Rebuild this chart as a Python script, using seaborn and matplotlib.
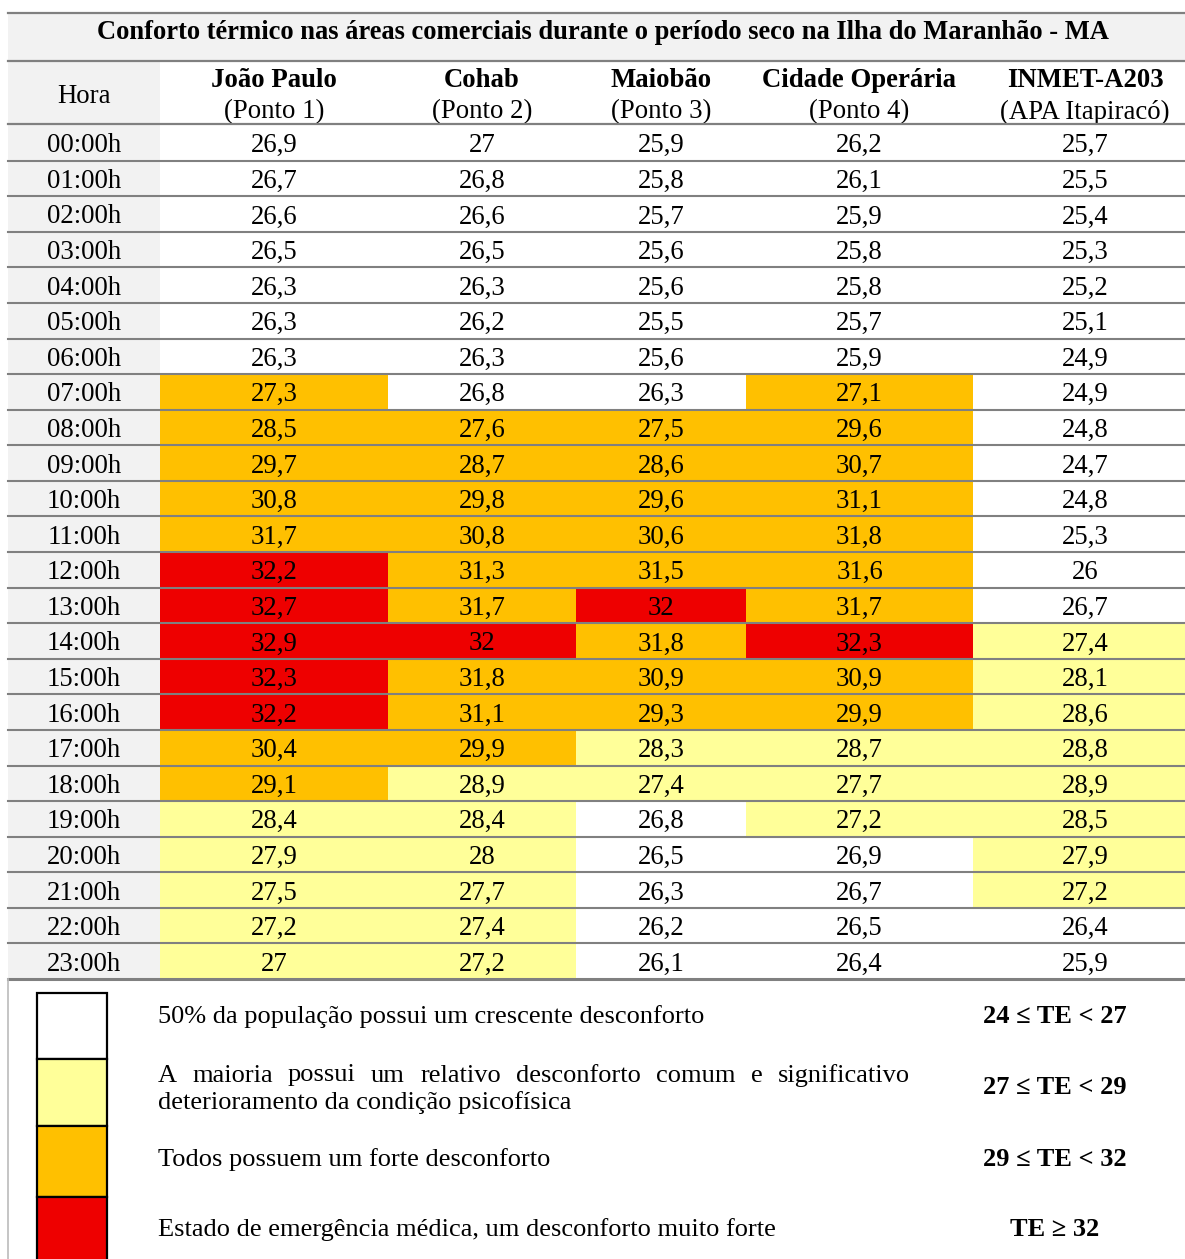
import matplotlib
matplotlib.use("Agg")
import matplotlib.pyplot as plt
from matplotlib.colors import ListedColormap
from matplotlib.patches import Rectangle
import seaborn as sns
import numpy as np

plt.rcParams["font.family"] = ["Liberation Serif", "DejaVu Serif"]

TITLE = "Conforto térmico nas áreas comerciais durante o período seco na Ilha do Maranhão - MA"
HOURS = ["00:00h", "01:00h", "02:00h", "03:00h", "04:00h", "05:00h", "06:00h", "07:00h",
         "08:00h", "09:00h", "10:00h", "11:00h", "12:00h", "13:00h", "14:00h", "15:00h",
         "16:00h", "17:00h", "18:00h", "19:00h", "20:00h", "21:00h", "22:00h", "23:00h"]
STATIONS = ["João Paulo", "Cohab", "Maiobão", "Cidade Operária", "INMET-A203"]
SUBTITLES = ["(Ponto 1)", "(Ponto 2)", "(Ponto 3)", "(Ponto 4)", "(APA Itapiracó)"]

joao_paulo = [26.9, 26.7, 26.6, 26.5, 26.3, 26.3, 26.3, 27.3, 28.5, 29.7, 30.8, 31.7,
              32.2, 32.7, 32.9, 32.3, 32.2, 30.4, 29.1, 28.4, 27.9, 27.5, 27.2, 27]
cohab = [27, 26.8, 26.6, 26.5, 26.3, 26.2, 26.3, 26.8, 27.6, 28.7, 29.8, 30.8,
         31.3, 31.7, 32, 31.8, 31.1, 29.9, 28.9, 28.4, 28, 27.7, 27.4, 27.2]
maiobao = [25.9, 25.8, 25.7, 25.6, 25.6, 25.5, 25.6, 26.3, 27.5, 28.6, 29.6, 30.6,
           31.5, 32, 31.8, 30.9, 29.3, 28.3, 27.4, 26.8, 26.5, 26.3, 26.2, 26.1]
cidade_operaria = [26.2, 26.1, 25.9, 25.8, 25.8, 25.7, 25.9, 27.1, 29.6, 30.7, 31.1, 31.8,
                   31.6, 31.7, 32.3, 30.9, 29.9, 28.7, 27.7, 27.2, 26.9, 26.7, 26.5, 26.4]
inmet = [25.7, 25.5, 25.4, 25.3, 25.2, 25.1, 24.9, 24.9, 24.8, 24.7, 24.8, 25.3,
         26, 26.7, 27.4, 28.1, 28.6, 28.8, 28.9, 28.5, 27.9, 27.2, 26.4, 25.9]

# comfort class of each cell as coloured in the source (0 white, 1 yellow, 2 orange, 3 red)
cls_joao_paulo = [0, 0, 0, 0, 0, 0, 0, 2, 2, 2, 2, 2, 3, 3, 3, 3, 3, 2, 2, 1, 1, 1, 1, 1]
cls_cohab = [0, 0, 0, 0, 0, 0, 0, 0, 2, 2, 2, 2, 2, 2, 3, 2, 2, 2, 1, 1, 1, 1, 1, 1]
cls_maiobao = [0, 0, 0, 0, 0, 0, 0, 0, 2, 2, 2, 2, 2, 3, 2, 2, 2, 1, 1, 0, 0, 0, 0, 0]
cls_cidade_operaria = [0, 0, 0, 0, 0, 0, 0, 2, 2, 2, 2, 2, 2, 2, 3, 2, 2, 1, 1, 1, 0, 0, 0, 0]
cls_inmet = [0, 0, 0, 0, 0, 0, 0, 0, 0, 0, 0, 0, 0, 0, 1, 1, 1, 1, 1, 1, 1, 1, 0, 0]

LEGEND_TEXT = [
    "50% da população possui um crescente desconforto",
    "A maioria possui um relativo desconforto comum e significativo",
    "deterioramento da condição psicofísica",
    "Todos possuem um forte desconforto",
    "Estado de emergência médica, um desconforto muito forte",
]
LEGEND_RANGES = ["24 ≤ TE < 27", "27 ≤ TE < 29", "29 ≤ TE < 32", "TE ≥ 32"]
COLORS = ["#FFFFFF", "#FFFF99", "#FFC000", "#EE0000"]

values = [joao_paulo, cohab, maiobao, cidade_operaria, inmet]
classes = [cls_joao_paulo, cls_cohab, cls_maiobao, cls_cidade_operaria, cls_inmet]

W, H = 1185, 1259
fig = plt.figure(figsize=(W / 100, H / 100), dpi=100)
fig.patch.set_facecolor("white")

col_edges = [160, 388, 576, 746, 973, 1197]
top, bottom = 125, 979
cmap = ListedColormap(COLORS)
fs = 19.3


def fmt(v):
    return "{:g}".format(v).replace(".", ",")


for i in range(len(STATIONS)):
    x0, x1 = col_edges[i], col_edges[i + 1]
    ax = fig.add_axes([x0 / W, 1 - bottom / H, (x1 - x0) / W, (bottom - top) / H])
    labels = np.array([fmt(v) for v in values[i]]).reshape(-1, 1)
    sns.heatmap(np.array(classes[i]).reshape(-1, 1), ax=ax, cmap=cmap, vmin=-0.5, vmax=3.5,
                cbar=False, annot=labels, fmt="", xticklabels=False, yticklabels=False,
                annot_kws={"fontsize": fs, "color": "black", "va": "center_baseline"})
    ax.set_xlabel("")
    ax.set_ylabel("")

# overlay in pixel coordinates
ov = fig.add_axes([0, 0, 1, 1], zorder=5)
ov.set_xlim(0, W)
ov.set_ylim(H, 0)
ov.axis("off")
ov.patch.set_alpha(0)

gray = "#F2F2F2"
line = "#808080"
ov.add_patch(Rectangle((8, 13), W, 48, facecolor=gray, edgecolor="none", zorder=0))
ov.add_patch(Rectangle((8, 61), 152, bottom - 61, facecolor=gray, edgecolor="none", zorder=0))

ov.text(603, 29.5, TITLE, ha="center", va="center_baseline", fontsize=19.1, fontweight="bold")
ov.text(84, 93, "Hora", ha="center", va="center_baseline", fontsize=fs)
for i, (name, sub) in enumerate(zip(STATIONS, SUBTITLES)):
    cx = (col_edges[i] + col_edges[i + 1]) / 2
    ov.text(cx, 77.5, name, ha="center", va="center_baseline", fontsize=fs, fontweight="bold")
    ov.text(cx, 109, sub, ha="center", va="center_baseline", fontsize=fs)

row_h = (bottom - top) / len(HOURS)
for j, h in enumerate(HOURS):
    ov.text(84, top + (j + 0.5) * row_h, h, ha="center", va="center_baseline", fontsize=fs)

for y in [13, 61, 124]:
    ov.plot([8, W], [y, y], color=line, lw=1.6, zorder=3)
for j in range(1, len(HOURS)):
    y = top + j * row_h
    ov.plot([8, W], [y, y], color=line, lw=1.5, zorder=3)
ov.plot([8, W], [bottom, bottom], color=line, lw=2.2, zorder=3)
ov.plot([8, 8], [bottom, H], color="#BBBBBB", lw=1.2, zorder=3)

# legend
sw = [(993, 1059), (1059, 1126), (1126, 1197), (1197, 1270)]
for (y0, y1), c in zip(sw, COLORS):
    ov.add_patch(Rectangle((37, y0), 70, y1 - y0, facecolor=c, edgecolor="black", lw=1.6, zorder=2))

lfs = 19.0
ov.text(158, 1014, LEGEND_TEXT[0], ha="left", va="center_baseline", fontsize=lfs)
# justified first line of the second entry
renderer = fig.canvas.get_renderer()
words = LEGEND_TEXT[1].split()
tmp = [ov.text(0, 0, w, fontsize=lfs) for w in words]
inv = ov.transData.inverted()
widths = []
for t in tmp:
    bb = t.get_window_extent(renderer)
    p0 = inv.transform((bb.x0, bb.y0))
    p1 = inv.transform((bb.x1, bb.y0))
    widths.append(p1[0] - p0[0])
    t.remove()
gap = (910 - 158 - sum(widths)) / (len(words) - 1)
x = 158
for w, wd in zip(words, widths):
    ov.text(x, 1073, w, ha="left", va="center_baseline", fontsize=lfs)
    x += wd + gap
ov.text(158, 1100, LEGEND_TEXT[2], ha="left", va="center_baseline", fontsize=lfs)
ov.text(158, 1157, LEGEND_TEXT[3], ha="left", va="center_baseline", fontsize=lfs)
ov.text(158, 1227, LEGEND_TEXT[4], ha="left", va="center_baseline", fontsize=lfs)

for y, r in zip([1014, 1085, 1157, 1227], LEGEND_RANGES):
    ov.text(1055, y, r, ha="center", va="center_baseline", fontsize=lfs, fontweight="bold")

fig.savefig("out.png", dpi=100)
